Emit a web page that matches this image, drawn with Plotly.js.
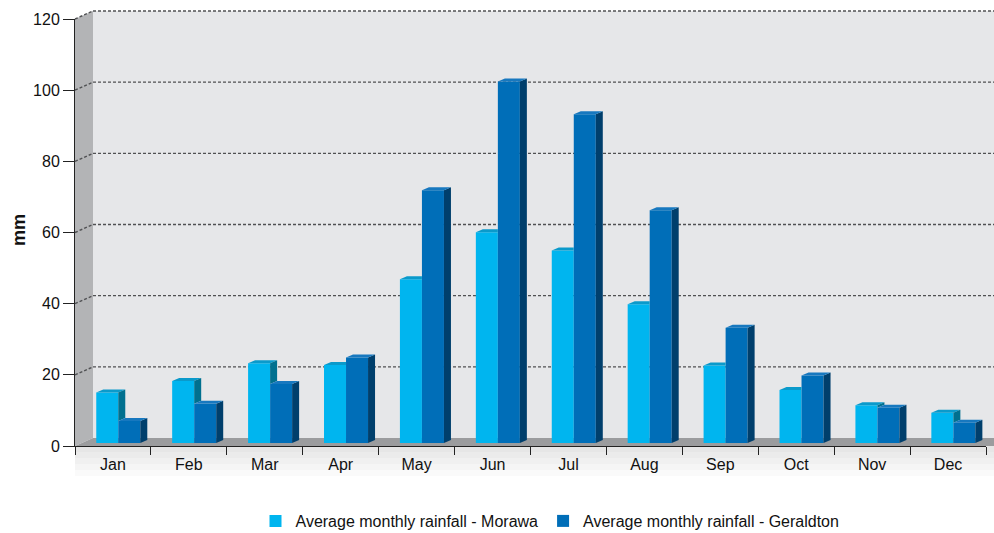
<!DOCTYPE html>
<html>
<head>
<meta charset="utf-8">
<script src="https://cdn.plot.ly/plotly-3.0.1.min.js"></script>
<style>
  html, body { margin: 0; padding: 0; background: #ffffff; }
  #chart { width: 994px; height: 533px; }
</style>
</head>
<body>
<div id="chart"></div>
<script>
// Average monthly rainfall (mm)
const months = ['Jan', 'Feb', 'Mar', 'Apr', 'May', 'Jun', 'Jul', 'Aug', 'Sep', 'Oct', 'Nov', 'Dec'];
const morawa = [14.2, 17.4, 22.4, 21.9, 46.0, 59.2, 54.1, 39.0, 21.8, 14.9, 10.6, 8.5];
const geraldton = [6.2, 11.0, 16.6, 24.0, 71.0, 101.6, 92.4, 65.4, 32.4, 19.0, 9.9, 5.7];
const yTicks = [0, 20, 40, 60, 80, 100, 120];
const seriesNames = ['Average monthly rainfall - Morawa', 'Average monthly rainfall - Geraldton'];

// Page and plot-area geometry
const W = 994, H = 533;
const M = { l: 75, r: 8, t: 19, b: 87 };
const plotW = W - M.l - M.r;
const plotH = H - M.t - M.b;
const Y_MAX = 120;

// Pseudo-3D depth: the walls recede by WALL px, bars by BAR px
const WALL = { x: 18, y: 8 };
const BAR = { x: 7, y: 3 };
const FLOOR_LIFT_PX = 3;

const pxToPaperX = px => px / plotW;
const pxToPaperY = px => px / plotH;
const pxToCat = px => px * months.length / plotW;
const pxToVal = px => px * Y_MAX / plotH;

const wdx = pxToPaperX(WALL.x), wdy = pxToPaperY(WALL.y);
const rightEdge = pxToPaperX(W - M.l);
const bdx = pxToCat(BAR.x), bdy = pxToVal(BAR.y);
const base = pxToVal(FLOOR_LIFT_PX);

const BAR_W = 0.29;
const OFF_M = -0.22, OFF_G = 0.07;

const col = {
  mFront: '#00b5ef', mTop: '#0a9acb', mSide: '#00708f',
  gFront: '#006eb8', gTop: '#1778bf', gSide: '#003f6c',
  wall: '#e6e7e9', leftWall: '#b3b4b6', floor: '#9b9c9e', grid: '#505153', axis: '#222222'
};

const shapes = [];
const poly = pts => 'M' + pts.map(p => p[0] + ',' + p[1]).join(' L') + ' Z';

// Soft shadow under the floor
for (let k = 1; k <= 5; k++) {
  shapes.push({
    type: 'rect', xref: 'paper', yref: 'paper', layer: 'below',
    x0: 0, x1: rightEdge, y0: 0, y1: -pxToPaperY(6 * k),
    fillcolor: 'rgba(0,0,0,0.018)', line: { width: 0 }
  });
}

// Back wall
shapes.push({
  type: 'rect', xref: 'paper', yref: 'paper', layer: 'below',
  x0: wdx, x1: rightEdge, y0: wdy, y1: 1 + wdy,
  fillcolor: col.wall, line: { width: 0 }
});
// Left wall
shapes.push({
  type: 'path', xref: 'paper', yref: 'paper', layer: 'below',
  path: poly([[0, 0], [0, 1], [wdx, 1 + wdy], [wdx, wdy]]),
  fillcolor: col.leftWall, line: { width: 0 }
});
// Floor
shapes.push({
  type: 'path', xref: 'paper', yref: 'paper', layer: 'below',
  path: poly([[0, 0], [rightEdge, 0], [rightEdge, wdy], [wdx, wdy]]),
  fillcolor: col.floor, line: { width: 0 }
});
// Dashed gridlines on the walls
yTicks.filter(v => v > 0).forEach(v => {
  const yf = v / Y_MAX;
  shapes.push({
    type: 'line', xref: 'paper', yref: 'paper', layer: 'below',
    x0: 0, y0: yf, x1: wdx, y1: yf + wdy,
    line: { color: col.grid, width: 1.4, dash: '3px,2px' }
  });
  shapes.push({
    type: 'line', xref: 'paper', yref: 'paper', layer: 'below',
    x0: wdx, y0: yf + wdy, x1: rightEdge, y1: yf + wdy,
    line: { color: col.grid, width: 1.4, dash: '3px,2px' }
  });
});

// Top and side faces of the bars, built from the data values
const face = (pts, color) => shapes.push({
  type: 'path', xref: 'x', yref: 'y', layer: 'above',
  path: poly(pts), fillcolor: color, line: { width: 0 }
});

months.forEach((m, i) => {
  const mv = morawa[i], gv = geraldton[i];
  const mt = base + mv, gt = base + gv;
  const mx0 = i + OFF_M, mx1 = mx0 + BAR_W;
  const gx0 = i + OFF_G, gx1 = gx0 + BAR_W;

  // Morawa top face (its right corner hides behind a taller Geraldton bar)
  if (gv > mv) {
    face([[mx0, mt], [mx1, mt], [mx1, mt + bdy], [mx0 + bdx, mt + bdy]], col.mTop);
  } else {
    face([[mx0, mt], [mx1, mt], [mx1 + bdx, mt + bdy], [mx0 + bdx, mt + bdy]], col.mTop);
    // visible part of the Morawa side face above the Geraldton bar
    face([[mx1, gt], [mx1, mt], [mx1 + bdx, mt + bdy], [mx1 + bdx, gt + bdy]], col.mSide);
  }
  // Geraldton side and top faces
  face([[gx1, base], [gx1, gt], [gx1 + bdx, gt + bdy], [gx1 + bdx, base + bdy]], col.gSide);
  face([[gx0, gt], [gx1, gt], [gx1 + bdx, gt + bdy], [gx0 + bdx, gt + bdy]], col.gTop);
});

const xIdx = months.map((_, i) => i);
const boundaries = months.map((_, i) => i - 0.5).concat([months.length - 0.5]);

const traces = [
  {
    type: 'bar', name: seriesNames[0], x: xIdx, y: morawa,
    base: xIdx.map(() => base), width: BAR_W, offset: OFF_M,
    marker: { color: col.mFront, line: { width: 0 } }, hoverinfo: 'skip'
  },
  {
    type: 'bar', name: seriesNames[1], x: xIdx, y: geraldton,
    base: xIdx.map(() => base), width: BAR_W, offset: OFF_G,
    marker: { color: col.gFront, line: { width: 0 } }, hoverinfo: 'skip'
  }
];

const font = { family: '"Liberation Sans", Arial, sans-serif', size: 16, color: '#111111' };

const layout = {
  width: W, height: H,
  margin: M,
  paper_bgcolor: '#ffffff',
  plot_bgcolor: 'rgba(0,0,0,0)',
  font: font,
  barmode: 'overlay',
  showlegend: true,
  legend: {
    orientation: 'h', xref: 'container', yref: 'container',
    x: 550 / W, xanchor: 'center',
    y: 1 - 521 / H, yanchor: 'middle',
    font: font, bgcolor: 'rgba(0,0,0,0)', traceorder: 'normal'
  },
  xaxis: {
    range: [-0.5, months.length - 0.5],
    tickmode: 'array', tickvals: xIdx, ticktext: months,
    ticks: 'outside', ticklen: 4, tickcolor: 'rgba(0,0,0,0)',
    minor: { tickmode: 'array', tickvals: boundaries, ticks: 'outside', ticklen: 8, tickwidth: 1, tickcolor: col.axis, showgrid: false },
    showline: true, linecolor: col.axis, linewidth: 1,
    showgrid: false, zeroline: false, fixedrange: true, tickfont: font
  },
  yaxis: {
    range: [0, Y_MAX],
    tickmode: 'array', tickvals: yTicks,
    ticks: 'outside', ticklen: 11, tickcolor: col.axis, tickwidth: 1,
    showline: true, linecolor: col.axis, linewidth: 1,
    showgrid: false, zeroline: false, fixedrange: true, tickfont: font
  },
  annotations: [{
    text: '<b>mm</b>', xref: 'paper', yref: 'paper',
    x: pxToPaperX(19 - M.l), y: pxToPaperY(446 - 230),
    xanchor: 'center', yanchor: 'middle', textangle: -90, showarrow: false,
    font: { family: font.family, size: 18, color: '#111111' }
  }],
  shapes: shapes
};

Plotly.newPlot('chart', traces, layout, { displayModeBar: false, staticPlot: true });
</script>
</body>
</html>
